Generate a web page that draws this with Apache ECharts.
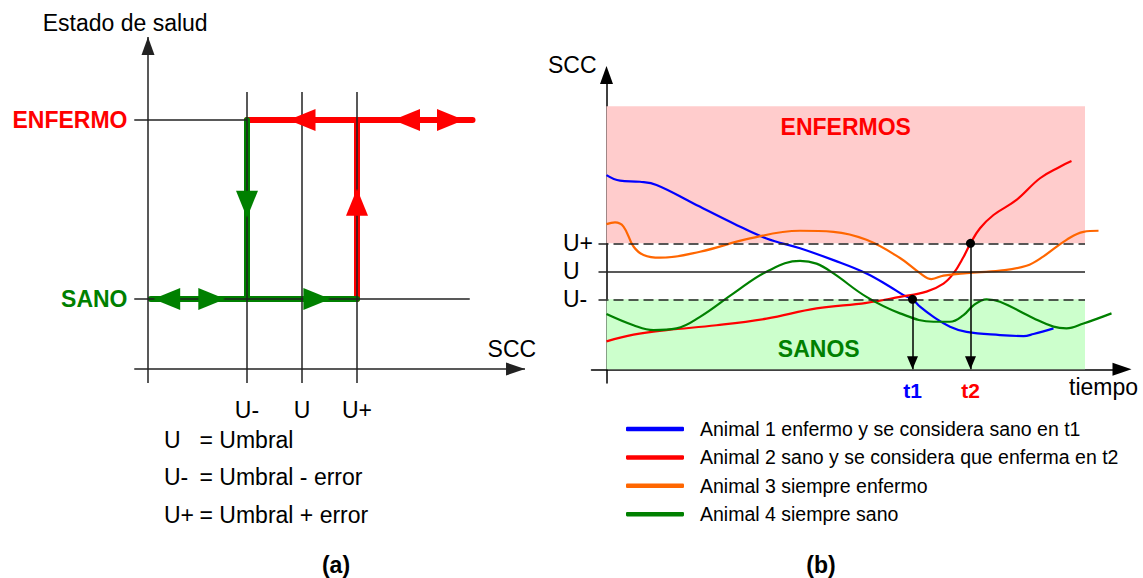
<!DOCTYPE html>
<html>
<head>
<meta charset="utf-8">
<script src="https://cdn.jsdelivr.net/npm/echarts@6/dist/echarts.min.js"></script>
<style>
html, body { margin: 0; padding: 0; background: #ffffff; }
#c { width: 1143px; height: 578px; }
</style>
</head>
<body>
<div id="c"></div>
<script>
// ================= DATA =================
// ---- Panel (a): estado de salud frente a SCC ----
const statesA = ['SANO', 'ENFERMO'];                 // state value 0, 1
const thresholdLabels = ['U-', 'U', 'U+'];
const thresholdSccA = [1.8, 2.8, 3.8];               // SCC of U-, U, U+ (panel a)
const definitionTerms = ['U', 'U-', 'U+'];
const definitionTexts = ['= Umbral', '= Umbral - error', '= Umbral + error'];
const sanoPathStart = 0.05;                          // SCC where the SANO path begins
const enfermoPathEnd = 5.9;                          // SCC where the ENFERMO path ends
// arrows on the state paths: [SCC, state, direction]
const redArrowsA = [[2.8, 1, 'left'], [4.7, 1, 'left'], [5.5, 1, 'right'], [3.8, 0.54, 'up']];
const greenArrowsA = [[0.34, 0, 'left'], [1.16, 0, 'right'], [3.07, 0, 'right'], [1.8, 0.53, 'down']];

// ---- Panel (b): SCC frente a tiempo ----
const animalNames = [
  'Animal 1 enfermo y se considera sano en t1',
  'Animal 2 sano y se considera que enferma en t2',
  'Animal 3 siempre enfermo',
  'Animal 4 siempre sano'
];
const animal1Time = [0, 2.7, 6.7, 10, 17.4, 25.4, 32, 38.7, 45.4, 52, 56.7, 59.4, 61.2, 62.7, 65.4, 68.7, 72, 78.7, 83.4, 85.4, 89.4];
const animal1Scc  = [55.5, 53.9, 53.6, 52.7, 47.4, 41.7, 37.4, 34.6, 31.2, 27.4, 23.6, 21.2, 20, 17.9, 15, 12.2, 10.7, 9.8, 9.5, 10.1, 11.7];
const animal2Time = [0, 5.4, 12, 22, 32, 42, 52, 58.7, 64, 67.4, 69.4, 71.4, 72.8, 74.7, 77.4, 82, 86.7, 90.7, 93];
const animal2Scc  = [8, 9.9, 11.2, 12.6, 14.5, 17.4, 19, 20.7, 22.2, 24.5, 27.4, 32.1, 36, 40.3, 44.1, 48.4, 54.6, 57.9, 59.5];
const animal3Time = [0, 1.7, 3.4, 5.4, 7.4, 10.7, 18.7, 28.7, 38.7, 45.4, 52, 58.7, 62.7, 65, 67.4, 72, 78.7, 84, 87.4, 92, 95.4, 98.4];
const animal3Scc  = [41.5, 42, 40.8, 35.1, 32.7, 31.9, 33.6, 37.4, 39.6, 39.3, 37, 31.8, 27.5, 25.8, 26.8, 27.5, 28.2, 29.6, 32.3, 37, 39.3, 39.6];
const animal4Time = [0, 5.4, 9.4, 14, 18.7, 25.4, 32, 38.7, 42, 45.4, 52, 58.7, 65.4, 68.7, 71.4, 73.4, 76, 78.7, 85.4, 89.4, 92, 95.4, 101];
const animal4Scc  = [15.8, 12.6, 11.2, 11.7, 15, 21.7, 27.9, 31, 30.2, 27.4, 20.7, 16, 13.6, 13.6, 15.5, 18.3, 20, 19.3, 14.6, 12.2, 11.7, 13.1, 16];
const thresholdSccB = [20, 28, 36];                  // U-, U, U+ (panel b)
const sickZoneTop = 75.2;
const zoneEndTime = 95.7;
const eventLabels = ['t1', 't2'];
const eventTimes = [61.2, 72.8];
const eventScc = [20, 36];                           // t1 at U-, t2 at U+

// ================= STYLE / LAYOUT =================
const RED = '#ff0000', GREEN = '#008000', BLUE = '#0000ff', ORANGE = '#ff6600';
const animalColors = [BLUE, RED, ORANGE, GREEN];
const eventColors = [BLUE, RED];
const FONT = '"Liberation Sans", Arial, Helvetica, sans-serif';
const ROT = { up: 0, left: 90, down: 180, right: -90 };
// panel (a) frame, in data units
const axisA = { sccStart: -0.25, sccTip: 6.855, sccLevel: -0.391, stateBottom: -0.469, stateTip: 1.464, guideTop: 1.156, sanoLineEnd: 5.85 };
const thresholdLineStart = -1.6;

function nearestIndex(list, v) {
  let best = 0;
  list.forEach((x, i) => { if (Math.abs(x - v) < Math.abs(list[best] - v)) best = i; });
  return best;
}
const zip = (xs, ys) => xs.map((x, i) => [x, ys[i]]);
const arrowEnd = { symbol: 'triangle', symbolOffset: [0, '50%'] };

// thin lines of panel (a)
const thinA = [
  [{ coord: [axisA.sccStart, axisA.sccLevel] }, Object.assign({ coord: [axisA.sccTip, axisA.sccLevel], symbolSize: [13, 19] }, arrowEnd)],
  [{ coord: [0, axisA.stateBottom] }, Object.assign({ coord: [0, axisA.stateTip], symbolSize: [13, 18] }, arrowEnd)],
  [{ coord: [axisA.sccStart, 1] }, { coord: [thresholdSccA[0], 1] }],
  [{ coord: [axisA.sccStart, 0] }, { coord: [axisA.sanoLineEnd, 0] }]
].concat(thresholdSccA.map(v => [{ coord: [v, axisA.stateBottom] }, { coord: [v, axisA.guideTop] }]));

const thickLine = (color, z) => ({ type: 'line', xAxisIndex: 0, yAxisIndex: 0, showSymbol: false, symbol: 'none', silent: true, z: z,
  lineStyle: { color: color, width: 6, cap: 'round' } });

const arrowSeries = (arr, color) => ({
  type: 'scatter', xAxisIndex: 0, yAxisIndex: 0, symbol: 'triangle', symbolSize: [22, 27], silent: true, z: 6,
  itemStyle: { color: color, opacity: 1 },
  data: arr.map(a => ({ value: [a[0], a[1]], symbolRotate: ROT[a[2]] }))
});

const dashStyle = { color: '#222', width: 1.5, type: [10, 5] };
const solidStyle = { color: '#222', width: 1.5, type: 'solid' };

const series = [
  { type: 'line', name: 'ejesA', xAxisIndex: 0, yAxisIndex: 0, data: [], silent: true, z: 1,
    markLine: { silent: true, animation: false, symbol: ['none', 'none'], label: { show: false }, emphasis: { disabled: true },
      lineStyle: { color: '#222', width: 1.5, type: 'solid' }, data: thinA } },
  Object.assign(thickLine(RED, 3), { data: [[thresholdSccA[0], 1], [enfermoPathEnd, 1]] }),
  Object.assign(thickLine(RED, 3), { data: [[thresholdSccA[2], 0], [thresholdSccA[2], 1]] }),
  Object.assign(thickLine(GREEN, 4), { data: [[sanoPathStart, 0], [thresholdSccA[2], 0]] }),
  Object.assign(thickLine(GREEN, 4), { data: [[thresholdSccA[0], 1], [thresholdSccA[0], 0]] }),
  arrowSeries(redArrowsA, RED),
  arrowSeries(greenArrowsA, GREEN),
  { type: 'line', name: 'zonasB', xAxisIndex: 1, yAxisIndex: 1, data: [], silent: true, z: 1,
    markArea: { silent: true, emphasis: { disabled: true },
      data: [
        [{ coord: [0, thresholdSccB[2]], itemStyle: { color: '#ffcccc' },
           label: { show: true, formatter: 'ENFERMOS', position: 'insideTop', distance: 9, color: RED, fontWeight: 'bold', fontSize: 23, fontFamily: FONT } },
         { coord: [zoneEndTime, sickZoneTop] }],
        [{ coord: [0, 0], itemStyle: { color: '#ccffcc' },
           label: { show: true, formatter: 'SANOS', position: 'insideBottom', distance: 9, offset: [-27, 0], color: GREEN, fontWeight: 'bold', fontSize: 23, fontFamily: FONT } },
         { coord: [zoneEndTime, thresholdSccB[0]] }]
      ] } },
  { type: 'line', name: 'umbralesB', xAxisIndex: 1, yAxisIndex: 1, data: [], silent: true, z: 2,
    markLine: { silent: true, animation: false, symbol: ['none', 'none'], label: { show: false }, emphasis: { disabled: true },
      data: thresholdSccB.map((v, i) => [{ coord: [thresholdLineStart, v], lineStyle: i === 1 ? solidStyle : dashStyle }, { coord: [zoneEndTime, v] }]) } }
];

animalNames.forEach((name, i) => {
  const t = [animal1Time, animal2Time, animal3Time, animal4Time][i];
  const s = [animal1Scc, animal2Scc, animal3Scc, animal4Scc][i];
  series.push({ type: 'line', name: name, xAxisIndex: 1, yAxisIndex: 1, data: zip(t, s), smooth: 0.4,
    showSymbol: false, symbol: 'none', silent: true, z: 3,
    lineStyle: { color: animalColors[i], width: 2.2 }, itemStyle: { color: animalColors[i] } });
});

series.push({ type: 'line', name: 'eventosB', xAxisIndex: 1, yAxisIndex: 1, data: [], silent: true, z: 5,
  markLine: { silent: true, animation: false, label: { show: false }, emphasis: { disabled: true },
    lineStyle: { color: '#000', width: 1.5, type: 'solid' },
    data: eventTimes.map((t, i) => [
      { coord: [t, eventScc[i]], symbol: 'circle', symbolSize: 9, itemStyle: { color: '#000' } },
      Object.assign({ coord: [t, 0], symbolSize: [11, 13], itemStyle: { color: '#000' } }, arrowEnd)
    ]) } });

const graphics = [
  { type: 'text', x: 42.7, y: 22.5, style: { text: 'Estado de salud', font: '23px ' + FONT, fill: '#000', align: 'left', verticalAlign: 'middle' } },
  { type: 'text', x: 487.6, y: 348.5, style: { text: 'SCC', font: '23px ' + FONT, fill: '#000', align: 'left', verticalAlign: 'middle' } },
  { type: 'text', x: 548, y: 64.5, style: { text: 'SCC', font: '23px ' + FONT, fill: '#000', align: 'left', verticalAlign: 'middle' } },
  { type: 'text', x: 1069, y: 387, style: { text: 'tiempo', font: '23px ' + FONT, fill: '#000', align: 'left', verticalAlign: 'middle' } },
  { type: 'text', x: 336, y: 565, style: { text: '(a)', font: 'bold 23px ' + FONT, fill: '#000', align: 'center', verticalAlign: 'middle' } },
  { type: 'text', x: 821, y: 565, style: { text: '(b)', font: 'bold 23px ' + FONT, fill: '#000', align: 'center', verticalAlign: 'middle' } }
];
const defRows = [440, 476.5, 515];
definitionTerms.forEach((term, i) => {
  graphics.push({ type: 'text', x: 164, y: defRows[i], style: { text: term, font: '23px ' + FONT, fill: '#000', align: 'left', verticalAlign: 'middle' } });
  graphics.push({ type: 'text', x: 199.5, y: defRows[i], style: { text: definitionTexts[i], font: '23px ' + FONT, fill: '#000', align: 'left', verticalAlign: 'middle' } });
});

const option = {
  animation: false,
  backgroundColor: '#ffffff',
  textStyle: { fontFamily: FONT },
  grid: [
    { left: 131.5, top: 30.5, width: 401.5, height: 358, containLabel: false, outerBoundsMode: 'none' },
    { left: 591.5, top: 75, width: 530.5, height: 308, containLabel: false, outerBoundsMode: 'none' }
  ],
  xAxis: [
    { gridIndex: 0, type: 'value', min: -0.3, max: 7.0, axisLine: { show: false }, axisTick: { show: false }, splitLine: { show: false },
      axisLabel: { customValues: thresholdSccA, formatter: v => thresholdLabels[nearestIndex(thresholdSccA, v)],
        fontSize: 23, color: '#000', margin: 10, fontFamily: FONT } },
    { gridIndex: 1, type: 'value', min: -3, max: 103.1,
      axisLine: { show: true, onZero: true, symbol: ['none', 'triangle'], symbolSize: [13, 19], lineStyle: { color: '#000', width: 1.5 } },
      axisTick: { show: false }, splitLine: { show: false },
      axisLabel: { customValues: eventTimes, formatter: v => eventLabels[nearestIndex(eventTimes, v)],
        fontSize: 21, fontWeight: 'bold', color: v => eventColors[nearestIndex(eventTimes, v)], margin: -3.5, fontFamily: FONT } }
  ],
  yAxis: [
    { gridIndex: 0, type: 'value', min: -0.5, max: 1.5, axisLine: { show: false }, axisTick: { show: false }, splitLine: { show: false },
      axisLabel: { customValues: [0, 1], formatter: v => statesA[Math.round(v)], fontSize: 23, fontWeight: 'bold',
        color: v => (v > 0.5 ? RED : GREEN), margin: 4, fontFamily: FONT } },
    { gridIndex: 1, type: 'value', min: -3.9, max: 84.1,
      axisLine: { show: true, onZero: true, symbol: ['none', 'triangle'], symbolSize: [13, 18], lineStyle: { color: '#000', width: 1.5 } },
      axisTick: { show: false }, splitLine: { show: false },
      axisLabel: { customValues: thresholdSccB, formatter: v => thresholdLabels[nearestIndex(thresholdSccB, v)],
        fontSize: 23, color: '#000', align: 'left', margin: 28.5, fontFamily: FONT } }
  ],
  legend: {
    data: animalNames, orient: 'vertical', left: 621, top: 414, icon: 'roundRect', itemWidth: 58, itemHeight: 4.5, itemGap: 8.4,
    selectedMode: false,
    textStyle: { fontSize: 19.5, color: '#000', lineHeight: 20, padding: [0, 0, 0, 11], fontFamily: FONT }
  },
  graphic: { elements: graphics },
  series: series
};

const chart = echarts.init(document.getElementById('c'), null, { renderer: 'svg', width: 1143, height: 578 });
chart.setOption(option);
</script>
</body>
</html>
